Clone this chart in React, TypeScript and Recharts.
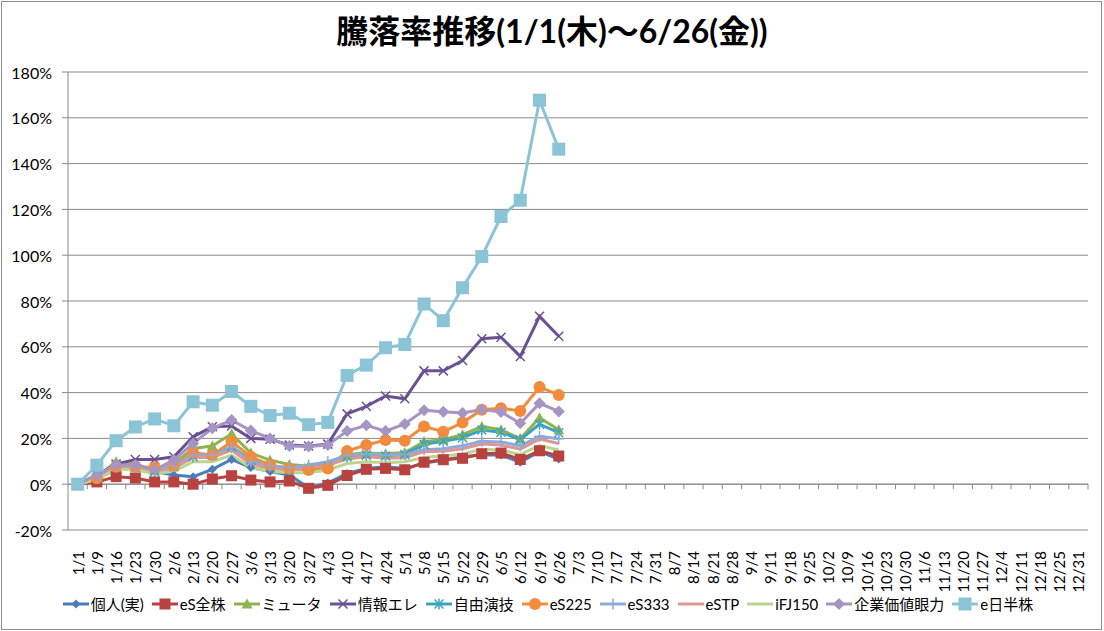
import React from 'react';
import { ComposedChart, Line, XAxis, YAxis, CartesianGrid, Legend, ReferenceLine } from 'recharts';

const categories = ['1/1','1/9','1/16','1/23','1/30','2/6','2/13','2/20','2/27','3/6','3/13','3/20','3/27','4/3','4/10','4/17','4/24','5/1','5/8','5/15','5/22','5/29','6/5','6/12','6/19','6/26','7/3','7/10','7/17','7/24','7/31','8/7','8/14','8/21','8/28','9/4','9/11','9/18','9/25','10/2','10/9','10/16','10/23','10/30','11/6','11/13','11/20','11/27','12/4','12/11','12/18','12/25','12/31'];

const kojin = [0, 2.5, 7.6, 9, 5.5, 4, 3.3, 6.5, 10.8, 7.3, 5.5, 4, -1.5, 0.5, 4.7, 6.9, 7.6, 6.9, 9.1, 10.6, 12, 12.7, 12.7, 9.6, 14.2, 11];
const esZenkabu = [0, 1, 3.3, 2.7, 1, 1, 0, 2.3, 3.7, 1.8, 1, 1.4, -1.8, -0.5, 3.8, 6.5, 6.9, 6.3, 9.6, 10.7, 11.3, 13.3, 13.6, 10.8, 14.6, 12.3];
const muta = [0, 3.3, 9.8, 8.4, 6.2, 9, 15.6, 16.7, 22, 13.6, 10.5, 8.6, 7.8, 8.5, 13, 13.6, 13.3, 13.8, 18.6, 19.5, 21.6, 25.2, 23.8, 19.8, 29, 23.8];
const johoEre = [0, 4, 8.8, 10.8, 10.8, 12, 20.7, 25.1, 25.4, 20, 19.6, 17.1, 16.7, 17.5, 30.7, 34, 38.5, 37.3, 49.5, 49.5, 54, 63.5, 64.2, 55.8, 73.3, 64.6];
const jiyuEngi = [0, 3, 8.4, 7.3, 5.5, 7.6, 12, 12.7, 16.4, 10.6, 7.6, 6.5, 6.9, 8, 12, 12.7, 12.3, 13, 17.4, 18.8, 20.3, 23.7, 22.7, 19.4, 26.2, 22.5];
const eS225 = [0, 2.6, 7.6, 7.6, 7.3, 8, 13.8, 12.7, 18.6, 12, 8.4, 6.9, 6.2, 6.9, 14.5, 17.1, 19.3, 19, 25.2, 22.9, 26.9, 32.5, 33.2, 32, 42.4, 39];
const eS333 = [0, 3, 8, 7.6, 6.2, 8, 12.7, 12.7, 16, 9.8, 8, 7.3, 8.4, 9.8, 12.5, 13.2, 12.7, 13, 15, 15.5, 16.8, 18.8, 18.4, 16.8, 20.9, 19.8];
const eSTP = [0, 2.5, 7.3, 6.9, 5.5, 6.9, 11.7, 11.7, 14.9, 8.8, 6.9, 6.2, 6.9, 8.4, 11, 12, 11.3, 11.5, 14.2, 14.4, 15.5, 17.5, 17.1, 15.3, 19.7, 17.8];
const iFJ150 = [0, 2, 6.5, 6.2, 4.7, 5.5, 9.8, 9.8, 12.7, 7.3, 5.5, 5, 5, 6.2, 9, 9.8, 9.4, 9.8, 11.7, 12.4, 13.1, 15.3, 14.9, 13, 16.9, 14.9];
const kigyoKachi = [0, 4, 8.4, 8.4, 6.2, 10.6, 17.8, 24.4, 28, 23.4, 20, 16.7, 16.5, 17.1, 23.2, 25.7, 23.2, 26.3, 32.3, 31.6, 31.1, 32.6, 31.5, 26.6, 35.3, 31.8];
const eNichihan = [0, 8.3, 19, 25, 28.5, 25.5, 36, 34.5, 40.5, 34, 30, 31, 26, 27, 47.5, 52, 59.6, 61, 78.7, 71.4, 85.8, 99.4, 116.9, 124, 167.7, 146.3];

const yTicks = [-20, 0, 20, 40, 60, 80, 100, 120, 140, 160, 180];

const seriesDefs = [
  { key: 's0', name: '個人(実)', values: kojin, color: '#4a7ebb', marker: 'diamondS' },
  { key: 's1', name: 'eS全株', values: esZenkabu, color: '#b8423f', marker: 'squareM' },
  { key: 's2', name: 'ミュータ', values: muta, color: '#8fb44f', marker: 'triangle' },
  { key: 's3', name: '情報エレ', values: johoEre, color: '#6b5193', marker: 'x' },
  { key: 's4', name: '自由演技', values: jiyuEngi, color: '#3ba3be', marker: 'star' },
  { key: 's5', name: 'eS225', values: eS225, color: '#f28c3c', marker: 'circle' },
  { key: 's6', name: 'eS333', values: eS333, color: '#8eaadb', marker: 'plus' },
  { key: 's7', name: 'eSTP', values: eSTP, color: '#de9694', marker: 'none' },
  { key: 's8', name: 'iFJ150', values: iFJ150, color: '#bcd58f', marker: 'none' },
  { key: 's9', name: '企業価値眼力', values: kigyoKachi, color: '#a594c4', marker: 'diamondL' },
  { key: 's10', name: 'e日半株', values: eNichihan, color: '#8cc4d7', marker: 'squareL' },
];

const data = categories.map((d, i) => {
  const row: any = { d };
  seriesDefs.forEach((s) => {
    row[s.key] = i < s.values.length ? s.values[i] : null;
  });
  return row;
});

const FONT = "Lato, 'Noto Sans CJK JP', sans-serif";
const GRID = '#8a8a8a';

function marker(type: string, cx: number, cy: number, color: string, k: any) {
  switch (type) {
    case 'diamondS': {
      const r = 4.5;
      return <path key={k} d={`M${cx},${cy - r}L${cx + r},${cy}L${cx},${cy + r}L${cx - r},${cy}Z`} fill={color} />;
    }
    case 'diamondL': {
      const r = 6;
      return <path key={k} d={`M${cx},${cy - r}L${cx + r},${cy}L${cx},${cy + r}L${cx - r},${cy}Z`} fill={color} />;
    }
    case 'squareM':
      return <rect key={k} x={cx - 5.5} y={cy - 5.5} width={11} height={11} fill={color} />;
    case 'squareL':
      return <rect key={k} x={cx - 6.5} y={cy - 6.5} width={13} height={13} fill={color} />;
    case 'triangle':
      return <path key={k} d={`M${cx},${cy - 5.5}L${cx + 5.5},${cy + 4.5}L${cx - 5.5},${cy + 4.5}Z`} fill={color} />;
    case 'circle':
      return <circle key={k} cx={cx} cy={cy} r={6} fill={color} />;
    case 'x':
      return (
        <g key={k} stroke={color} strokeWidth={1.5}>
          <line x1={cx - 4.5} y1={cy - 4.5} x2={cx + 4.5} y2={cy + 4.5} />
          <line x1={cx - 4.5} y1={cy + 4.5} x2={cx + 4.5} y2={cy - 4.5} />
        </g>
      );
    case 'star':
      return (
        <g key={k} stroke={color} strokeWidth={1.5}>
          <line x1={cx - 4.5} y1={cy - 4.5} x2={cx + 4.5} y2={cy + 4.5} />
          <line x1={cx - 4.5} y1={cy + 4.5} x2={cx + 4.5} y2={cy - 4.5} />
          <line x1={cx} y1={cy - 5.5} x2={cx} y2={cy + 5.5} />
        </g>
      );
    case 'plus':
      return (
        <g key={k} stroke={color} strokeWidth={1.5}>
          <line x1={cx - 5.5} y1={cy} x2={cx + 5.5} y2={cy} />
          <line x1={cx} y1={cy - 5.5} x2={cx} y2={cy + 5.5} />
        </g>
      );
    default:
      return <g key={k} />;
  }
}

const makeDot = (type: string, color: string) => (p: any) => {
  if (p.value == null || p.cx == null || p.cy == null) return <g key={p.index} />;
  return marker(type, p.cx, p.cy, color, p.index);
};

const XTick = (props: any) => {
  const { x, payload } = props;
  const y = props.y;
  return (
    <text
      x={x}
      y={y}
      transform={`rotate(-90 ${x} ${y})`}
      textAnchor="end"
      dominantBaseline="central"
      fontSize={15}
      fontFamily={FONT}
      fill="#000"
    >
      {payload.value}
    </text>
  );
};

const YTick = (props: any) => {
  const { y, payload } = props;
  return (
    <text
      x={52}
      y={y}
      textAnchor="end"
      dominantBaseline="central"
      fontSize={16}
      fontFamily={FONT}
      fill="#000"
    >
      {`${payload.value}%`}
    </text>
  );
};

const ZeroAxis = (props: any) => {
  const { x1, y1, x2 } = props;
  if (x1 == null) return <g />;
  const n = categories.length;
  const step = (x2 - x1) / n;
  const ticks = [];
  for (let i = 1; i <= n; i++) {
    const tx = x1 + step * i;
    ticks.push(<line key={i} x1={tx} y1={y1} x2={tx} y2={y1 + 5} stroke={GRID} strokeWidth={1} />);
  }
  return (
    <g>
      <line x1={x1} y1={y1} x2={x2} y2={y1} stroke={GRID} strokeWidth={1} />
      {ticks}
    </g>
  );
};

const LegendContent = () => (
  <div style={{ display: 'flex', justifyContent: 'center', alignItems: 'center', fontFamily: FONT, fontSize: 15, color: '#000', whiteSpace: 'nowrap' }}>
    {seriesDefs.map((s) => (
      <div key={s.key} style={{ display: 'flex', alignItems: 'center', marginRight: 8 }}>
        <svg width={26} height={14} style={{ marginRight: 2 }}>
          <line x1={0} y1={7} x2={26} y2={7} stroke={s.color} strokeWidth={3} />
          {marker(s.marker, 13, 7, s.color, 'm')}
        </svg>
        <span>{s.name}</span>
      </div>
    ))}
  </div>
);

export default function App() {
  return (
    <div style={{ position: 'absolute', left: 0, top: 0, width: 1104, height: 631, background: '#fff' }}>
      <div
        style={{
          position: 'absolute', left: 1, top: 1, width: 1101, height: 629,
          border: '1px solid #8c8c8c', boxSizing: 'border-box', pointerEvents: 'none',
        }}
      />
      <div
        style={{
          position: 'absolute', left: 0, top: 10, width: 1104, textAlign: 'center',
          fontFamily: FONT, fontWeight: 'bold', fontSize: 32, color: '#000', lineHeight: '42px',
        }}
      >
        騰落率推移(1/1(木)～6/26(金))
      </div>
      <ComposedChart
        width={1104}
        height={631}
        data={data}
        margin={{ top: 72, right: 16, bottom: 8, left: 0 }}
      >
        <CartesianGrid vertical={false} stroke={GRID} strokeWidth={1} />
        <XAxis
          dataKey="d"
          scale="band"
          interval={0}
          axisLine={false}
          tickLine={false}
          tick={<XTick />}
          tickMargin={15}
          height={63}
        />
        <YAxis
          domain={[-20, 180]}
          ticks={yTicks}
          interval={0}
          width={68}
          axisLine={{ stroke: GRID }}
          tickLine={{ stroke: GRID }}
          tickSize={6}
          tick={<YTick />}
        />
        <ReferenceLine y={0} shape={ZeroAxis} />
        {seriesDefs.map((s) => (
          <Line
            key={s.key}
            type="linear"
            dataKey={s.key}
            name={s.name}
            stroke={s.color}
            strokeWidth={3}
            dot={makeDot(s.marker, s.color)}
            activeDot={false}
            isAnimationActive={false}
            connectNulls={false}
          />
        ))}
        <Legend
          verticalAlign="bottom"
          height={30}
          content={<LegendContent />}
          wrapperStyle={{ left: 0, width: 1104 }}
        />
      </ComposedChart>
    </div>
  );
}
